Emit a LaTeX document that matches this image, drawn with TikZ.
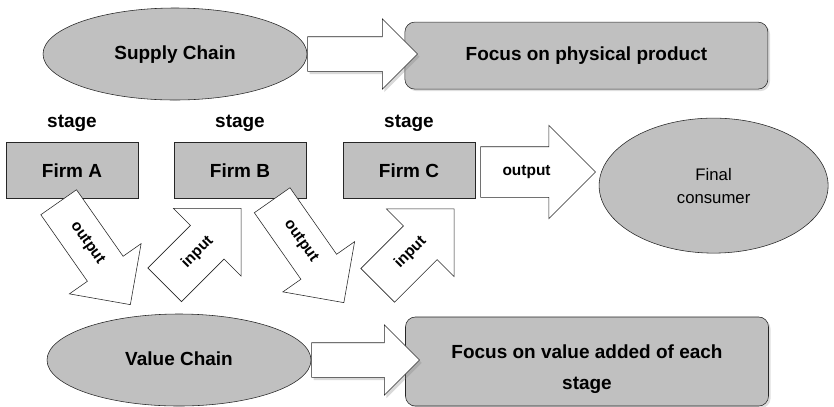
\documentclass[tikz,border=0pt]{standalone}
\usepackage{fontspec}
\setsansfont{Liberation Sans}
\usepackage{xcolor}
\usepackage{tikz}
\usetikzlibrary{positioning,calc,shapes.geometric,shapes.arrows,shadows}
\definecolor{panel}{HTML}{C0C0C0}
\definecolor{ink}{HTML}{262626}

\begin{document}
\begin{tikzpicture}[
  font=\sffamily\bfseries\fontsize{13.5}{16}\selectfont,
  chain/.style={ellipse,draw=ink,fill=panel,minimum width=6.6cm,minimum height=2.3cm,inner sep=0pt,
    text height=0.8em,text depth=0pt},
  firm/.style={draw=ink,fill=panel,minimum width=3.3cm,minimum height=1.4cm,inner sep=0pt,
    text height=1.06em,text depth=0pt},
  focus/.style={draw=ink,fill=panel,rounded corners=7pt,minimum width=9.075cm,inner sep=0pt,align=center,
    drop shadow={shadow xshift=1.5pt,shadow yshift=-1.5pt,opacity=.25}},
  stagelbl/.style={inner sep=0pt},
  flow/.style={single arrow,draw=ink,fill=white,single arrow tip angle=90,inner xsep=0pt,anchor=tail},
  bigarrow/.style={flow,minimum height=2.75cm,inner ysep=0.425cm,single arrow head extend=0.45cm,
    drop shadow={shadow xshift=1.5pt,shadow yshift=-2pt,opacity=.3}},
  outflow/.style={flow,minimum height=3.125cm,inner ysep=0.5375cm,single arrow head extend=0.55cm,rotate=-55},
  inflow/.style={flow,minimum height=2.7cm,inner ysep=0.5875cm,single arrow head extend=0.6cm,rotate=45},
  tag/.style={font=\sffamily\bfseries\fontsize{11}{13}\selectfont,inner sep=0pt}
]
\useasboundingbox (0,0) rectangle (20.85,-10.15);

% top row
\node[chain] (sc) at (4.375,-1.35) {Supply Chain};
\node[focus,minimum height=1.675cm,text height=0.75em,text depth=0pt] (fp) at (14.66,-1.39) {Focus on physical product};
\node[bigarrow] (sca) at (sc.east) {};

% firms
\node[firm] (fa) at (1.8,-4.25) {Firm A};
\node[firm] (fb) at (6.0,-4.25) {Firm B};
\node[firm] (fc) at (10.225,-4.25) {Firm C};
\node[stagelbl,above=0.25cm of fa] (sa) {stage};
\node[stagelbl,above=0.25cm of fb] (sb) {stage};
\node[stagelbl,above=0.25cm of fc] (sd) {stage};

\node[ellipse,draw=ink,fill=panel,minimum width=5.725cm,minimum height=3.375cm,inner sep=0pt,align=center,
  font=\sffamily\fontsize{11.9}{16.3}\selectfont] (fin) at (17.84,-4.64) {Final\\consumer};
\node[flow,minimum height=2.875cm,inner ysep=0.625cm,single arrow head extend=0.5375cm] (oc)
  at ($(fc.east)+(0.125,-0.05)$) {};
\path (oc.tail) -- (oc.tip) node[tag,pos=.4] (ocl) {output};

% flows between firms
\node[outflow] (oa) at (1.4625,-5.05) {};
\node[outflow] (ob) at (6.8,-5.0) {};
\node[inflow] (ib) at (4.1125,-7.125) {};
\node[inflow] (ic) at (9.4375,-7.1375) {};
\path (oa.tail) -- (oa.tip) node[tag,sloped,pos=.4] (oal) {output};
\path (ob.tail) -- (ob.tip) node[tag,sloped,pos=.4] (obl) {output};
\path (ib.tail) -- (ib.tip) node[tag,sloped,pos=.43] (ibl) {input};
\path (ic.tail) -- (ic.tip) node[tag,sloped,pos=.43] (icl) {input};

% bottom row
\node[chain] (vc) at (4.475,-9.0) {Value Chain};
\node[focus,minimum height=2.225cm] (fv) at (14.675,-9.0375) {};
\node[inner sep=0pt,align=center,font=\sffamily\bfseries\fontsize{13.5}{22}\selectfont] (fvl)
  at ([yshift=-0.2cm]fv.center) {Focus on value added of each\\stage};
\node[bigarrow,minimum height=2.7cm] (vca) at (vc.east) {};
\end{tikzpicture}
\end{document}
